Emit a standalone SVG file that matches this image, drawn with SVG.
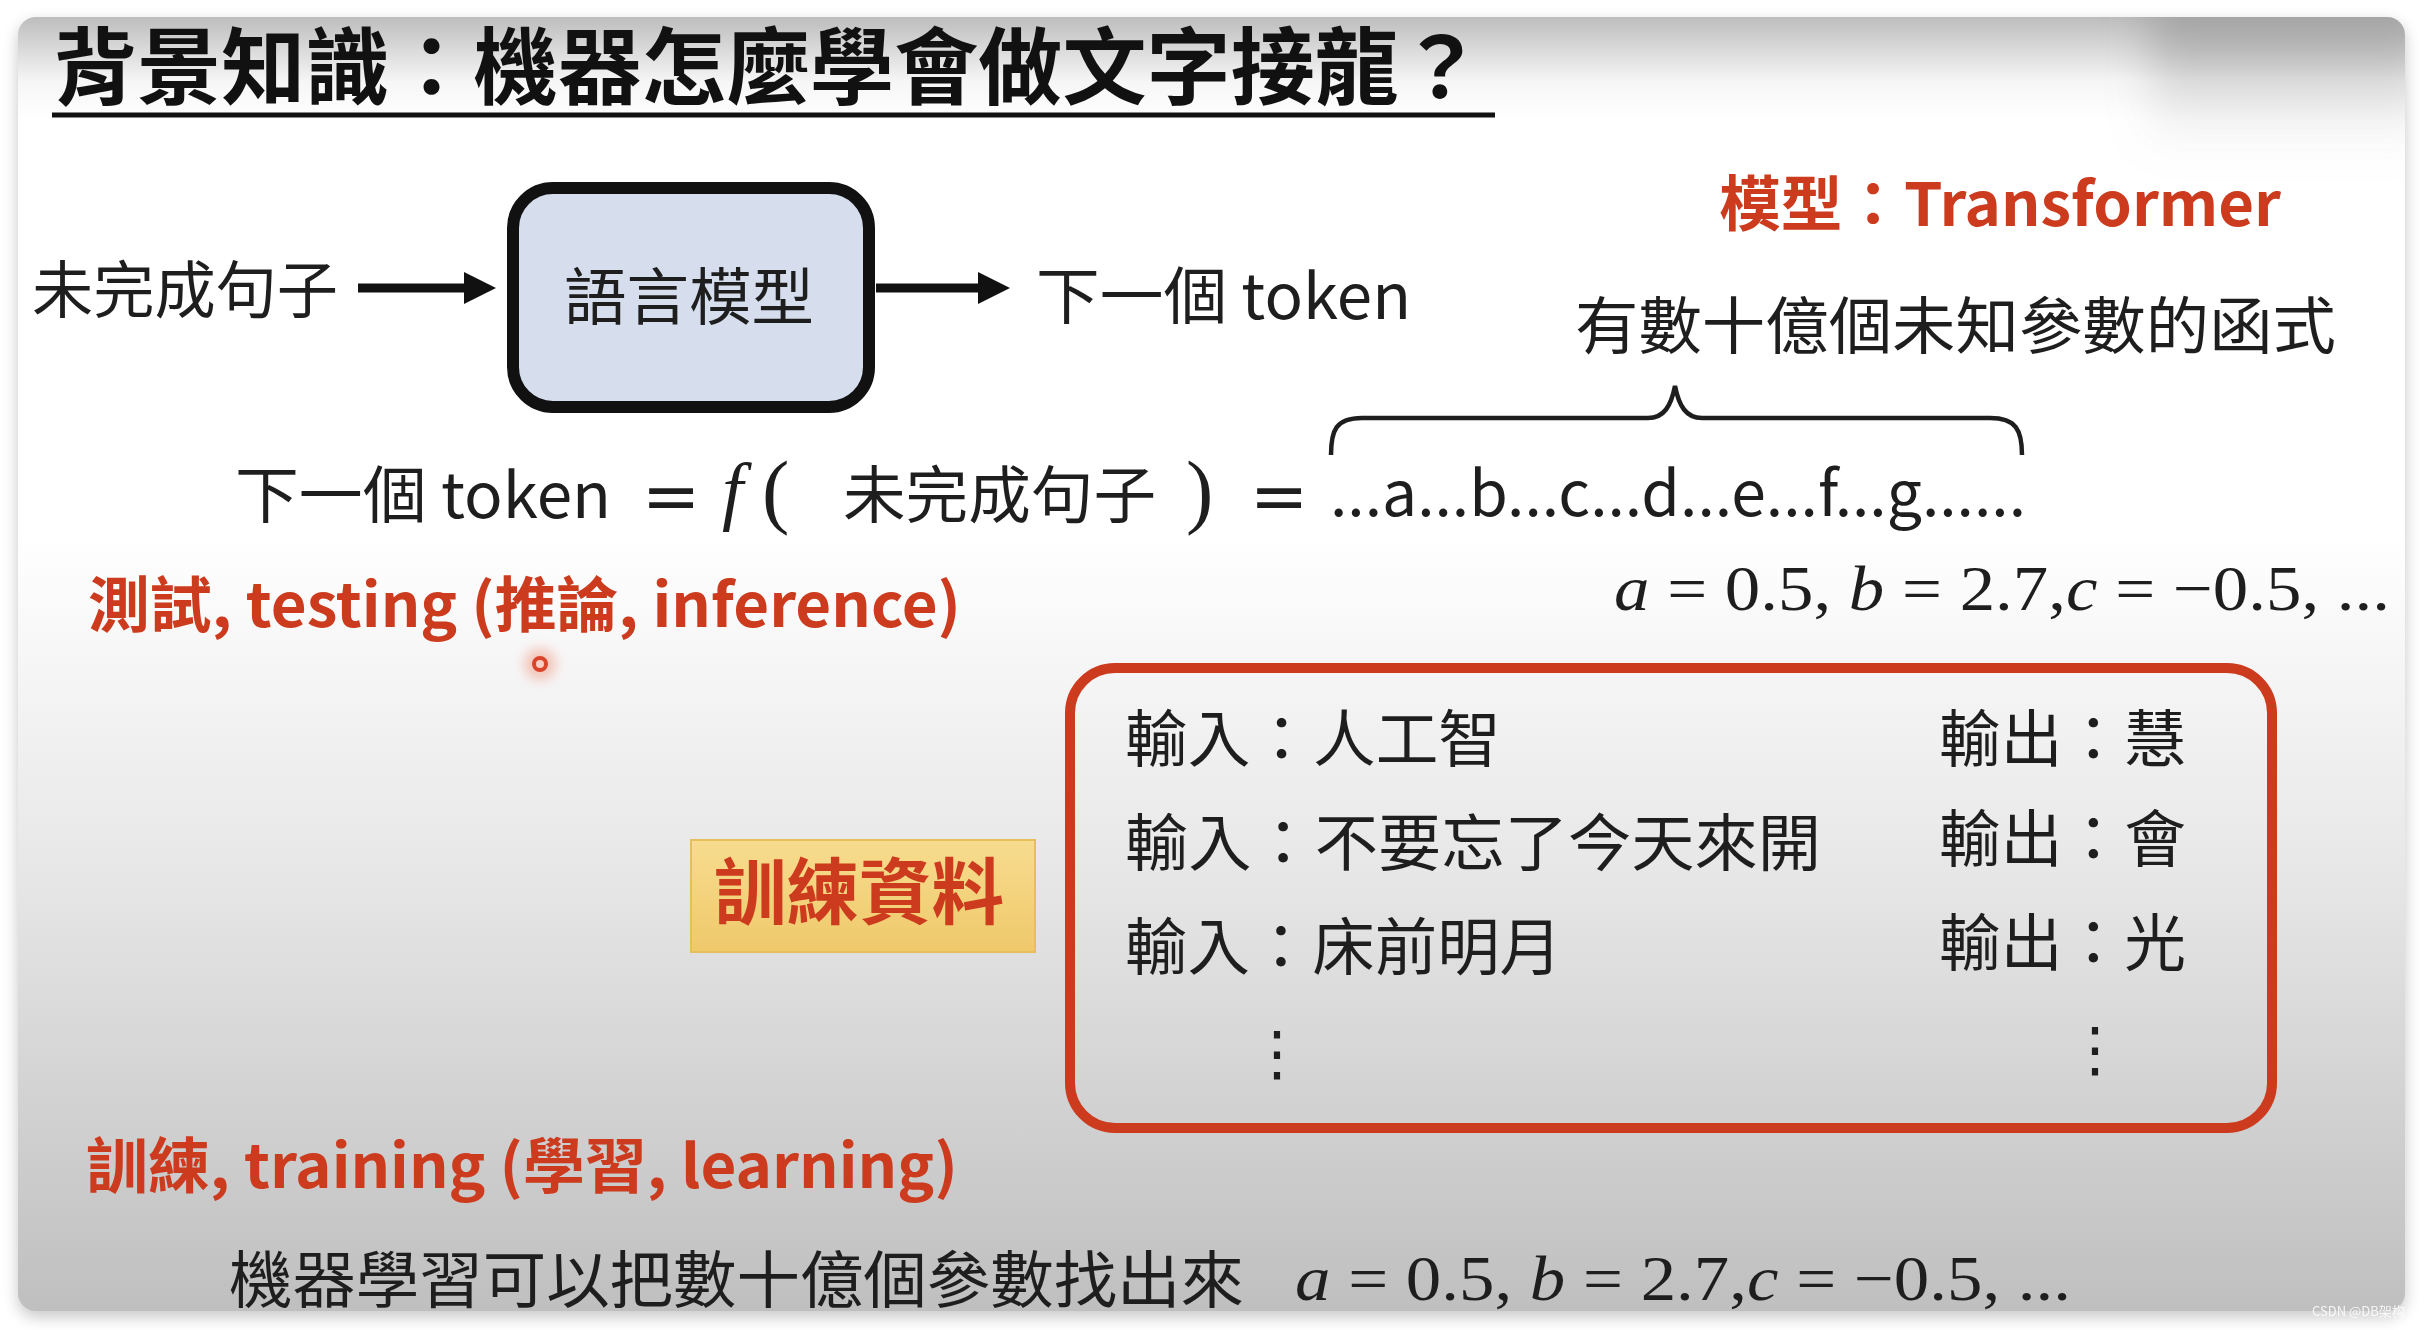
<svg xmlns="http://www.w3.org/2000/svg" width="2424" height="1330" viewBox="0 0 2424 1330">
<style>
.cjk{font-family:"Noto Sans CJK TC","Noto Sans",sans-serif;}
.body{font-size:62px;fill:#1e1e1e;}
.red{fill:#cc3b1e;font-weight:700;}
.math{font-family:"Liberation Serif","DejaVu Serif",serif;fill:#1e1e1e;}
.eq{font-family:"DejaVu Sans",sans-serif;fill:#1e1e1e;}
.it{font-style:italic;}
.conn{stroke:#111;stroke-width:9;fill:none;}
</style>
<defs>
<linearGradient id="slideBg" x1="0" y1="0" x2="0" y2="1">
<stop offset="0" stop-color="#bdbdbd"/>
<stop offset="0.05" stop-color="#f6f6f6"/>
<stop offset="0.08" stop-color="#ffffff"/>
<stop offset="0.40" stop-color="#ffffff"/>
<stop offset="0.65" stop-color="#e8e8e8"/>
<stop offset="1" stop-color="#bfbfbf"/>
</linearGradient>
<linearGradient id="cornerShade" x1="0" y1="0" x2="0" y2="1">
<stop offset="0" stop-color="#7a7a7a" stop-opacity="0.55"/>
<stop offset="1" stop-color="#9a9a9a" stop-opacity="0"/>
</linearGradient>
<linearGradient id="gold" x1="0" y1="0" x2="0" y2="1">
<stop offset="0" stop-color="#f7dc8f"/>
<stop offset="1" stop-color="#efc96a"/>
</linearGradient>
<filter id="shadow" x="-5%" y="-5%" width="110%" height="110%">
<feGaussianBlur stdDeviation="8"/>
</filter>
<filter id="soft" x="-50%" y="-50%" width="200%" height="200%">
<feGaussianBlur stdDeviation="22"/>
</filter>
<filter id="glow" x="-100%" y="-100%" width="300%" height="300%">
<feGaussianBlur stdDeviation="6"/>
</filter>
<clipPath id="slideClip">
<rect x="18" y="17" width="2387" height="1294" rx="18"/>
</clipPath>
<marker id="head" viewBox="0 0 32 32" refX="2" refY="16" markerWidth="32" markerHeight="32" markerUnits="userSpaceOnUse" orient="auto">
<path d="M0,0 L32,16 L0,32 Z" fill="#111"/>
</marker>
</defs>

<rect x="0" y="0" width="2424" height="1330" fill="#ffffff"/>
<g id="slide">
<rect x="18" y="23" width="2387" height="1294" rx="18" fill="#000" opacity="0.22" filter="url(#shadow)"/>
<rect x="18" y="17" width="2387" height="1294" rx="18" fill="url(#slideBg)"/>
<g clip-path="url(#slideClip)">
<rect x="2150" y="0" width="280" height="150" fill="url(#cornerShade)" filter="url(#soft)"/>
</g>
</g>

<g id="title">
<text class="cjk" x="53" y="98" font-size="84" font-weight="700" fill="#111" textLength="1430" lengthAdjust="spacingAndGlyphs">背景知識：機器怎麼學會做文字接龍？</text>
<line x1="52" y1="115" x2="1495" y2="115" stroke="#111" stroke-width="5"/>
</g>

<g id="connectors">
<line class="conn" x1="358" y1="288" x2="466" y2="288" marker-end="url(#head)"/>
<line class="conn" x1="876" y1="288" x2="980" y2="288" marker-end="url(#head)"/>
</g>

<g id="input-sentence">
<text class="cjk body" x="32" y="313" font-size="60" textLength="306" lengthAdjust="spacingAndGlyphs">未完成句子</text>
</g>

<g id="language-model">
<rect x="513" y="188" width="356" height="219" rx="40" fill="#d6deee" stroke="#111" stroke-width="12"/>
<text class="cjk body" x="564" y="320" fill="#262626" textLength="250" lengthAdjust="spacingAndGlyphs">語言模型</text>
</g>

<g id="next-token">
<text class="cjk body" x="1036" y="319" textLength="375" lengthAdjust="spacingAndGlyphs">下一個 token</text>
</g>

<g id="model-label">
<text class="cjk red" x="1719" y="226" font-size="60" textLength="562" lengthAdjust="spacingAndGlyphs">模型：Transformer</text>
<text class="cjk body" x="1575" y="349" font-size="60" textLength="761" lengthAdjust="spacingAndGlyphs">有數十億個未知參數的函式</text>
<path d="M1331,455 C1331,430 1336,418 1362,418 L1648,418 C1664,418 1671,406 1675,386 C1679,406 1686,418 1702,418 L1990,418 C2016,418 2022,430 2022,455" fill="none" stroke="#1e1e1e" stroke-width="4.5"/>
</g>

<g id="formula">
<text class="cjk body" x="235" y="518" font-size="60" textLength="376" lengthAdjust="spacingAndGlyphs">下一個 token</text>
<text class="eq" x="671" y="520" font-size="70" text-anchor="middle">=</text>
<text class="math it" x="722" y="516" font-size="76">f</text>
<text class="math" x="762" y="518" font-size="82">(</text>
<text class="cjk body" x="843" y="518" font-size="60" textLength="313" lengthAdjust="spacingAndGlyphs">未完成句子</text>
<text class="math" x="1186" y="518" font-size="82">)</text>
<text class="eq" x="1279" y="520" font-size="70" text-anchor="middle">=</text>
<text class="cjk body" x="1330" y="516" textLength="696" lengthAdjust="spacingAndGlyphs">...a...b...c...d...e...f...g......</text>
<text class="math" x="1614" y="610" font-size="64" textLength="776" lengthAdjust="spacingAndGlyphs"><tspan class="it">a</tspan> = 0.5, <tspan class="it">b</tspan> = 2.7,<tspan class="it">c</tspan> = −0.5, ...</text>
</g>

<g id="testing-label">
<text class="cjk red" x="88" y="627" font-size="60" textLength="873" lengthAdjust="spacingAndGlyphs">測試, testing (推論, inference)</text>
</g>

<g id="pointer">
<circle cx="540" cy="664" r="16" fill="#f08a70" opacity="0.45" filter="url(#glow)"/>
<circle cx="540" cy="664" r="6" fill="#f6d0c4" stroke="#d9442a" stroke-width="4"/>
</g>

<g id="training-data-label">
<rect x="691" y="840" width="344" height="112" fill="url(#gold)" stroke="#e6bf5c" stroke-width="2"/>
<text class="cjk red" x="714" y="918" font-size="72" textLength="290" lengthAdjust="spacingAndGlyphs">訓練資料</text>
</g>

<g id="training-data">
<rect x="1070" y="668" width="1202" height="460" rx="45" fill="none" stroke="#cc3b1e" stroke-width="10"/>
<text class="cjk body" x="1125" y="762" textLength="376" lengthAdjust="spacingAndGlyphs">輸入：人工智</text>
<text class="cjk body" x="1125" y="866" textLength="696" lengthAdjust="spacingAndGlyphs">輸入：不要忘了今天來開</text>
<text class="cjk body" x="1125" y="970" textLength="437" lengthAdjust="spacingAndGlyphs">輸入：床前明月</text>
<text class="cjk body" x="1939" y="762" textLength="247" lengthAdjust="spacingAndGlyphs">輸出：慧</text>
<text class="cjk body" x="1939" y="862" textLength="247" lengthAdjust="spacingAndGlyphs">輸出：會</text>
<text class="cjk body" x="1939" y="966" textLength="247" lengthAdjust="spacingAndGlyphs">輸出：光</text>
<text x="1277" y="1074" font-family="DejaVu Sans, sans-serif" font-size="60" fill="#1e1e1e" text-anchor="middle">⋮</text>
<text x="2095" y="1070" font-family="DejaVu Sans, sans-serif" font-size="60" fill="#1e1e1e" text-anchor="middle">⋮</text>
</g>

<g id="training-label">
<text class="cjk red" x="86" y="1188" font-size="60" textLength="872" lengthAdjust="spacingAndGlyphs">訓練, training (學習, learning)</text>
</g>

<g id="bottom-line">
<text class="cjk body" x="229" y="1303" textLength="1015" lengthAdjust="spacingAndGlyphs">機器學習可以把數十億個參數找出來</text>
<text class="math" x="1295" y="1300" font-size="64" textLength="776" lengthAdjust="spacingAndGlyphs"><tspan class="it">a</tspan> = 0.5, <tspan class="it">b</tspan> = 2.7,<tspan class="it">c</tspan> = −0.5, ...</text>
</g>

<text x="2312" y="1316" font-family="Noto Sans CJK SC, sans-serif" font-size="13" fill="#ffffff" opacity="0.85">CSDN @DB架构</text>
</svg>
